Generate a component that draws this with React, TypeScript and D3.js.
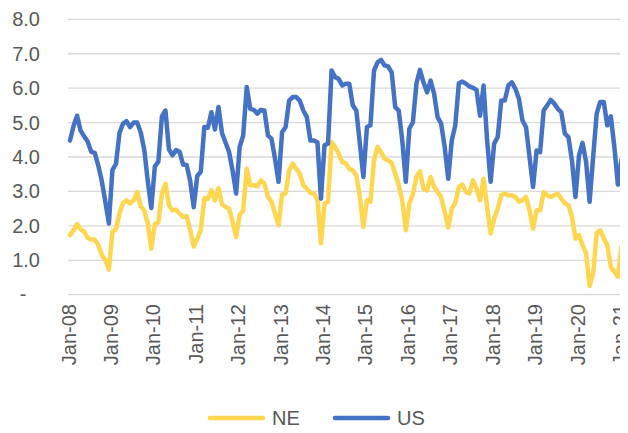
import React from "react";
import * as d3 from "d3";

const startYear = 2008;
const yTicks = [0, 1, 2, 3, 4, 5, 6, 7, 8];
const xTickYears = [8, 9, 10, 11, 12, 13, 14, 15, 16, 17, 18, 19, 20, 21];
const seriesNames = ["NE", "US"];
const seriesColors = ["#FFD64F", "#4472C4"];

const usValues = [
  4.48, 4.9, 5.2, 4.77, 4.6, 4.45, 4.15, 4.12, 3.75, 3.3, 2.7, 2.07,
  3.62, 3.8, 4.7, 4.97, 5.04, 4.87, 5.0, 5.0, 4.72, 4.22, 3.3, 2.52,
  3.72, 3.87, 5.18, 5.35, 4.22, 4.05, 4.2, 4.15, 3.78, 3.77, 3.3, 2.54,
  3.45, 3.57, 4.87, 4.85, 5.3, 4.8, 5.45, 4.7, 4.42, 4.15, 3.6, 2.94,
  4.29, 4.63, 6.03, 5.4, 5.37, 5.26, 5.37, 5.35, 4.63, 4.53, 3.95, 3.28,
  4.72, 4.87, 5.64, 5.74, 5.74, 5.64, 5.35, 5.16, 4.48, 4.48, 4.43, 2.79,
  4.34, 4.39, 6.51, 6.32, 6.27, 6.08, 6.13, 6.13, 5.5, 5.35, 4.39, 3.42,
  4.87, 4.92, 6.51, 6.75, 6.82, 6.66, 6.63, 6.46, 5.45, 5.35, 4.48, 3.28,
  4.82, 5.01, 6.13, 6.53, 6.17, 5.88, 6.22, 5.84, 5.16, 4.97, 4.29, 3.37,
  4.48, 4.92, 6.14, 6.19, 6.13, 6.05, 6.01, 5.95, 5.2, 6.08, 4.48, 3.28,
  4.39, 4.58, 5.64, 5.64, 6.08, 6.17, 5.98, 5.69, 5.06, 4.87, 4.0, 3.13,
  4.19, 4.14, 5.35, 5.5, 5.66, 5.55, 5.4, 5.3, 4.68, 4.58, 3.9, 2.84,
  4.05, 4.41, 3.86, 2.7, 4.0, 5.26, 5.6, 5.6, 4.92, 5.18, 4.29, 3.2,
  3.92, 3.76, 4.82,
];

const neValues = [
  1.73, 1.87, 2.05, 1.9, 1.83, 1.65, 1.6, 1.6, 1.44, 1.15, 1.0, 0.73,
  1.83, 1.9, 2.36, 2.67, 2.74, 2.65, 2.74, 2.98, 2.57, 2.45, 2.07, 1.34,
  2.05, 2.1, 2.94, 3.23, 2.6, 2.45, 2.47, 2.36, 2.26, 2.28, 1.87, 1.4,
  1.63, 1.87, 2.8, 2.78, 3.03, 2.74, 3.1, 2.63, 2.55, 2.5, 2.12, 1.68,
  2.31, 2.45, 3.66, 3.18, 3.18, 3.15, 3.32, 3.23, 2.84, 2.7, 2.36, 2.02,
  2.92, 2.94, 3.61, 3.81, 3.66, 3.52, 3.18, 3.08, 2.96, 2.94, 2.76, 1.49,
  2.65, 2.7, 4.43, 4.29, 4.1, 3.86, 3.81, 3.66, 3.61, 3.47, 2.84, 1.97,
  2.74, 2.7, 3.9, 4.29, 4.14, 3.95, 3.9, 3.83, 3.52, 3.18, 2.74, 1.87,
  2.65, 2.92, 3.42, 3.58, 3.08, 3.03, 3.42, 3.13, 2.98, 2.84, 2.41, 1.95,
  2.5, 2.67, 3.13, 3.2, 2.98, 2.94, 3.32, 3.08, 2.74, 3.37, 2.55, 1.78,
  2.21, 2.5, 2.89, 2.94, 2.89, 2.89, 2.84, 2.7, 2.74, 2.84, 2.45, 1.92,
  2.45, 2.45, 2.98, 2.89, 2.84, 2.89, 2.94, 2.79, 2.65, 2.6, 2.26, 1.63,
  1.73, 1.44, 1.2, 0.25, 0.62, 1.8, 1.87, 1.63, 1.44, 0.81, 0.67, 0.52,
  1.39, 1.2, 1.48,
];

const W = 628;
const H = 433;
const plotLeft = 68;
const plotRight = 628;
const plotTop = 19.3;
const plotBottom = 294.7;
const font = "'Liberation Sans', Arial, sans-serif";
const textColor = "#595959";

export default function App() {
  const n = usValues.length;
  const x = d3.scaleLinear().domain([0, n - 1]).range([70, 628.5]);
  const y = d3.scaleLinear().domain([0, 8]).range([plotBottom, plotTop]);
  const line = d3
    .line<number>()
    .x((_, i) => x(i))
    .y((d) => y(d));
  const series = [neValues, usValues];

  return (
    <div style={{ margin: -8, width: W, height: H, overflow: "hidden" }}>
      <svg width={W} height={H} style={{ display: "block", background: "#fff" }}>
        <defs>
          <clipPath id="plotclip">
            <rect x={plotLeft - 5} y={0} width={W - plotLeft + 5} height={plotBottom + 10} />
          </clipPath>
        </defs>
        {yTicks.map((t) => (
          <g key={t}>
            <line
              x1={plotLeft}
              x2={plotRight}
              y1={y(t)}
              y2={y(t)}
              stroke="#d9d9d9"
              strokeWidth={1.3}
            />
            {t === 0 ? (
              <text x={23} y={y(t) + 6} textAnchor="middle" fontFamily={font} fontSize={20} fill={textColor}>
                -
              </text>
            ) : (
              <text x={40} y={y(t) + 7} textAnchor="end" fontFamily={font} fontSize={20} fill={textColor}>
                {t.toFixed(1)}
              </text>
            )}
          </g>
        ))}
        {xTickYears.map((yr) => {
          const idx = (2000 + yr - startYear) * 12;
          const px = x(idx);
          return (
            <text
              key={yr}
              transform={`translate(${px + 5.5},${304}) rotate(-90)`}
              textAnchor="end"
              fontFamily={font}
              fontSize={20}
              fill={textColor}
            >
              {`Jan-${String(yr).padStart(2, "0")}`}
            </text>
          );
        })}
        <g clipPath="url(#plotclip)">
          {series.map((s, i) => (
            <path
              key={seriesNames[i]}
              d={line(s) || ""}
              fill="none"
              stroke={seriesColors[i]}
              strokeWidth={4.5}
              strokeLinejoin="round"
              strokeLinecap="round"
            />
          ))}
        </g>
        {seriesNames.map((name, i) => {
          const lx = i === 0 ? 210 : 335;
          return (
            <g key={name}>
              <line
                x1={lx}
                x2={lx + 53}
                y1={418}
                y2={418}
                stroke={seriesColors[i]}
                strokeWidth={4.5}
                strokeLinecap="round"
              />
              <text x={lx + 62} y={425} fontFamily={font} fontSize={20} fill={textColor}>
                {name}
              </text>
            </g>
          );
        })}
      </svg>
    </div>
  );
}
